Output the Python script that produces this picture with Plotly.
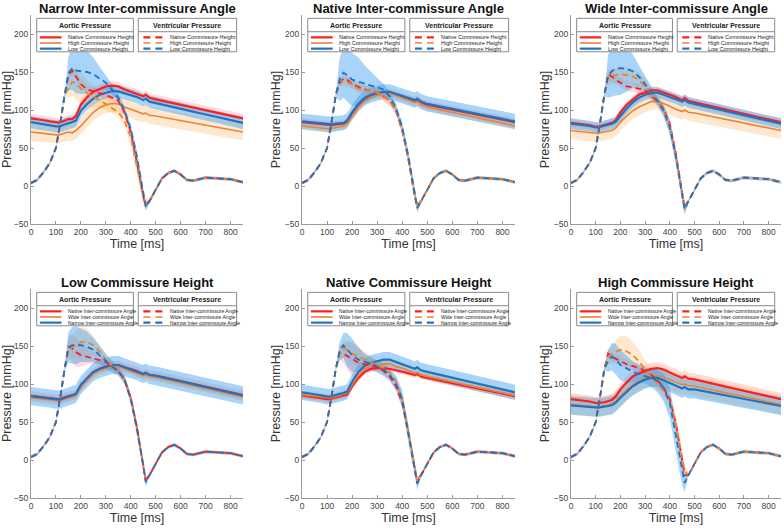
import plotly.graph_objects as go

# time grid (ms)
T = [0, 25, 50, 75, 100, 110, 120, 135, 150, 165, 180, 200, 225, 250, 275, 300, 325, 350,
     375, 400, 425, 450, 460, 475, 500, 525, 550, 575, 600, 625, 650, 700, 750, 800, 850]

# ventricular pressure: nearly identical start/end in every case
vent_early = [4, 8, 18, 30, 50, 68, 88, 120]                       # 0..135 ms
vent_late = [-20, -5, 10, 17, 20, 15, 8, 7, 11, 10, 9, 5]           # 475..850 ms
vent_edge_sd = 2

titles = ["Narrow Inter-commissure Angle", "Native Inter-commissure Angle", "Wide Inter-commissure Angle",
          "Low Commissure Height", "Native Commissure Height", "High Commissure Height"]
labels_top = ["Native Commissure Height", "High Commissure Height", "Low Commissure Height"]
labels_bottom = ["Native Inter-commissure Angle", "Wide Inter-commissure Angle", "Narrow Inter-commissure Angle"]

# ---- aortic pressure (full grid) ----
ao_narrow_native = [89, 88, 86.5, 85, 83.5, 83.5, 84, 86, 88, 88, 92, 107, 117, 124, 128, 131, 132, 131, 127, 124,
                    122, 118, 120, 116, 114, 112.2, 110.4, 108.6, 106.9, 105.1, 103.3, 99.7, 96.1, 92.6, 89]
ao_narrow_high = [71, 70, 69, 68, 67, 67, 68, 69, 71, 70, 73, 79, 88, 97, 103, 107, 108.5, 108, 104, 101,
                  97, 95, 96, 93, 92, 90.5, 89, 87.5, 86, 84.5, 83, 80, 77, 74, 71]
ao_narrow_low = [84, 82.5, 81, 80, 78.5, 78.5, 79, 81, 82, 84, 86, 99, 108, 115, 120, 123, 125, 124.5, 122, 119,
                 117, 113, 115, 111, 109, 107, 105.3, 103.4, 101.6, 99.7, 97.9, 94.1, 90.4, 86.7, 83]

ao_native_native = [84, 83, 82, 81, 80, 79.5, 80, 81, 82, 82, 85, 96, 107, 115, 119, 121, 123, 123, 120, 117,
                    115, 112, 114, 110, 107, 105.4, 103.7, 102, 100.4, 98.8, 97.1, 93.9, 90.6, 87.3, 84]
ao_native_high = [79, 78, 77, 76, 75, 75, 76, 77, 78, 79, 82, 92, 103, 112, 117, 120, 122, 122, 119, 116,
                  113, 110, 111, 107, 104, 102.2, 100.4, 98.6, 96.9, 95.1, 93.3, 89.7, 86.1, 82.6, 79]
ao_native_low = [85, 84, 83, 82, 81, 80.5, 81, 82, 83, 83, 86, 97, 108, 116, 120, 122, 124, 124, 121, 118,
                 116, 113, 115, 111, 108, 106.4, 104.7, 103, 101.4, 99.8, 98.1, 94.9, 91.6, 88.3, 85]

ao_wide_native = [83, 82, 81, 80, 78, 78, 79, 80, 81, 83, 86, 97, 107, 114, 120, 123, 126, 126, 123, 121,
                  117, 113, 116, 112, 110, 108.1, 106.3, 104.4, 102.6, 100.7, 98.9, 95.1, 91.4, 87.7, 84]
ao_wide_high = [73, 72, 71, 70, 69, 69, 70, 71, 72, 73, 76, 84, 92, 99, 104, 108, 111, 112, 109, 105,
                101, 98, 100, 97, 96, 94.4, 92.7, 91, 89.4, 87.8, 86.1, 82.9, 79.6, 76.3, 73]
ao_wide_low = [82, 81, 80, 79, 77, 77, 78, 79, 80, 82, 84, 92, 102, 110, 116, 120, 122.5, 123, 120, 118,
               115, 111, 113, 110, 108, 106.1, 104.3, 102.4, 100.6, 98.7, 96.9, 93.1, 89.4, 85.7, 82]

ao_lowch_native = [84.5, 83.5, 82.5, 81.5, 80, 80, 81, 83, 84, 85, 86, 97, 107, 115, 120, 123, 125, 124.5, 122, 120,
                   117, 113, 114, 112, 111, 109.2, 107.4, 105.6, 103.8, 102, 100.2, 96.6, 92.9, 89.3, 85.5]
ao_lowch_wide = [82, 81, 80, 79, 78, 78, 79, 80, 82, 83, 85, 96, 105, 113, 118, 121, 123, 123, 120, 118,
                 115, 111, 112, 110, 109, 107.1, 105.3, 103.4, 101.6, 99.7, 97.9, 94.1, 90.4, 86.7, 83]
ao_lowch_narrow = [84, 83, 82, 81, 79.5, 79.5, 80, 82, 84, 85, 87, 99, 108, 116, 120, 123, 125, 125, 122, 120,
                   117, 113, 115, 112, 111, 109.1, 107.3, 105.4, 103.6, 101.7, 99.9, 96.1, 92.4, 88.7, 85]

ao_nativech_native = [85, 84, 83, 81.5, 80, 80, 81, 82, 84, 84, 86, 97, 108, 116, 120, 121, 121, 120, 118, 117,
                      115, 112, 113, 110, 108, 106.3, 104.6, 102.9, 101.1, 99.4, 97.7, 94.3, 90.9, 87.4, 84]
ao_nativech_wide = [86, 85, 84, 83, 81.5, 81.5, 82, 83.5, 85, 86, 88, 99, 111, 120, 124, 125, 126.5, 126.5, 123, 121,
                    117, 114, 115, 112, 110, 108.2, 106.4, 104.6, 102.9, 101.1, 99.3, 95.7, 92.1, 88.6, 85]
ao_nativech_narrow = [89, 88, 86.5, 85, 83, 83, 84, 86, 87, 88, 90, 103, 116, 124, 128, 130, 132, 132, 129, 126,
                      123, 120, 122, 118, 116, 114.1, 112.1, 110.2, 108.3, 106.4, 104.4, 100.6, 96.7, 92.9, 89]

ao_highch_native = [80, 79, 78, 77, 75, 75, 75.5, 76, 77, 79, 83, 93, 102, 110, 114, 117, 120, 121, 119, 115,
                    112, 108, 110, 107, 106, 104.1, 102.3, 100.4, 98.6, 96.7, 94.9, 91.1, 87.4, 83.7, 80]
ao_highch_wide = [73, 72, 71, 70.5, 69.5, 69.5, 70, 71, 72, 74, 77, 84, 92, 99, 104, 108, 110, 111, 109, 106,
                  102, 99, 100, 98, 97, 95.3, 93.6, 91.9, 90.1, 88.4, 86.7, 83.3, 79.9, 76.4, 73]
ao_highch_narrow = [72, 71, 70.5, 70, 69, 69, 69.5, 70, 71, 72, 75, 82, 90, 97, 102, 106, 108, 108, 105, 101,
                    98, 94, 96, 93, 93, 91.4, 89.9, 88.3, 86.7, 85.1, 83.6, 80.4, 77.3, 74.1, 71]

# aortic SD per series (legend order)
ao_sd_narrow = [6, 11, 8]
ao_sd_native = [5, 5, 10]
ao_sd_wide = [5, 11, 7]
ao_sd_lowch = [6, 5, 12]
ao_sd_nativech = [4, 5, 10]
ao_sd_highch = [8, 13, 12]

# ---- ventricular pressure, 150..460 ms ----
vm_narrow_native = [145, 152, 144, 134, 127, 125, 123, 120, 116, 112, 97, 71, 30, -14, -25]
vm_narrow_high = [128, 137, 135, 128, 122, 118, 113, 108, 103, 97, 86, 64, 25, -14, -23]
vm_narrow_low = [148, 155, 152, 151, 150, 147, 142, 136, 127, 116, 99, 75, 38, -10, -27]
vm_native_native = [135, 141, 140, 134, 130, 127, 125, 123, 118, 112, 99, 73, 34, -14, -27]
vm_native_high = [138, 138, 136, 134, 128, 126, 124, 123, 118, 112, 100, 74, 35, -12, -27]
vm_native_low = [140, 149, 146, 140, 137, 134, 132, 130, 127, 118, 103, 77, 38, -10, -29]
vm_wide_native = [147, 144, 140, 136, 131, 130, 128, 126, 118, 112, 101, 82, 42, -10, -29]
vm_wide_high = [142, 144, 146, 147, 146, 144, 140, 131, 123, 112, 99, 78, 38, -12, -30]
vm_wide_low = [144, 151, 154, 155, 154, 151, 144, 134, 123, 112, 99, 77, 38, -12, -31]
vm_lowch_native = [149, 147, 142, 138, 136, 134, 132, 129, 123, 117, 106, 82, 43, -5, -27]
vm_lowch_wide = [145, 149, 152, 155, 155, 151, 143, 132, 124, 117, 106, 82, 43, -5, -27]
vm_lowch_narrow = [148, 151, 151, 151, 149, 145, 138, 130, 123, 117, 106, 80, 40, -7, -29]
vm_nativech_native = [141, 140, 137, 132, 128, 126, 124, 122, 117, 110, 97, 75, 35, -12, -30]
vm_nativech_wide = [140, 147, 145, 140, 136, 132, 128, 125, 121, 115, 104, 80, 38, -8, -28]
vm_nativech_narrow = [143, 151, 145, 138, 132, 130, 127, 123, 119, 112, 101, 80, 34, -10, -31]
vm_highch_native = [140, 136, 133, 130, 126, 124, 121, 117, 112, 105, 95, 80, 47, 0, -20]
vm_highch_wide = [136, 138, 142, 145, 143, 138, 130, 119, 110, 101, 90, 77, 47, 3, -14]
vm_highch_narrow = [130, 136, 133, 125, 120, 116, 113, 111, 108, 104, 95, 75, 30, -15, -30]

# ventricular SD, 150..460 ms
vsd_narrow_native = [6, 6, 6, 6, 5, 5, 5, 5, 5, 5, 5, 5, 6, 6, 5]
vsd_narrow_high = [12, 18, 20, 20, 18, 14, 10, 8, 7, 7, 8, 10, 12, 10, 8]
vsd_narrow_low = [22, 28, 30, 30, 28, 22, 15, 10, 7, 6, 6, 6, 8, 8, 6]
vsd_native_native = [5, 5, 5, 5, 5, 5, 5, 5, 5, 5, 5, 5, 5, 5, 5]
vsd_native_high = [6, 6, 6, 6, 6, 6, 6, 6, 6, 6, 6, 6, 6, 6, 6]
vsd_native_low = [28, 33, 35, 35, 32, 25, 18, 12, 8, 6, 6, 6, 8, 8, 6]
vsd_wide_native = [6, 6, 6, 6, 6, 6, 6, 6, 6, 6, 6, 6, 6, 6, 6]
vsd_wide_high = [10, 10, 10, 10, 10, 10, 10, 10, 8, 8, 8, 8, 8, 8, 8]
vsd_wide_low = [28, 33, 35, 35, 30, 22, 15, 10, 8, 6, 8, 10, 10, 8, 6]
vsd_lowch_native = [15, 18, 20, 15, 10, 7, 6, 5, 5, 5, 5, 5, 5, 5, 5]
vsd_lowch_wide = [12, 15, 18, 20, 18, 12, 8, 6, 5, 5, 5, 5, 5, 5, 5]
vsd_lowch_narrow = [20, 24, 25, 22, 20, 16, 12, 10, 8, 6, 6, 6, 8, 8, 6]
vsd_nativech_native = [10, 12, 18, 22, 20, 12, 8, 5, 5, 5, 5, 5, 5, 5, 5]
vsd_nativech_wide = [8, 10, 12, 15, 14, 10, 8, 6, 5, 5, 5, 5, 5, 5, 5]
vsd_nativech_narrow = [12, 16, 22, 22, 16, 10, 8, 8, 8, 8, 10, 12, 12, 10, 8]
vsd_highch_native = [6, 6, 6, 6, 6, 6, 6, 6, 6, 6, 6, 6, 6, 6, 6]
vsd_highch_wide = [10, 12, 15, 18, 20, 18, 15, 12, 10, 8, 8, 10, 10, 10, 8]
vsd_highch_narrow = [14, 18, 20, 20, 18, 14, 12, 10, 12, 15, 18, 20, 20, 18, 12]

panels = [
    (titles[0], labels_top, [ao_narrow_native, ao_narrow_high, ao_narrow_low], ao_sd_narrow,
     [vm_narrow_native, vm_narrow_high, vm_narrow_low], [vsd_narrow_native, vsd_narrow_high, vsd_narrow_low]),
    (titles[1], labels_top, [ao_native_native, ao_native_high, ao_native_low], ao_sd_native,
     [vm_native_native, vm_native_high, vm_native_low], [vsd_native_native, vsd_native_high, vsd_native_low]),
    (titles[2], labels_top, [ao_wide_native, ao_wide_high, ao_wide_low], ao_sd_wide,
     [vm_wide_native, vm_wide_high, vm_wide_low], [vsd_wide_native, vsd_wide_high, vsd_wide_low]),
    (titles[3], labels_bottom, [ao_lowch_native, ao_lowch_wide, ao_lowch_narrow], ao_sd_lowch,
     [vm_lowch_native, vm_lowch_wide, vm_lowch_narrow], [vsd_lowch_native, vsd_lowch_wide, vsd_lowch_narrow]),
    (titles[4], labels_bottom, [ao_nativech_native, ao_nativech_wide, ao_nativech_narrow], ao_sd_nativech,
     [vm_nativech_native, vm_nativech_wide, vm_nativech_narrow],
     [vsd_nativech_native, vsd_nativech_wide, vsd_nativech_narrow]),
    (titles[5], labels_bottom, [ao_highch_native, ao_highch_wide, ao_highch_narrow], ao_sd_highch,
     [vm_highch_native, vm_highch_wide, vm_highch_narrow], [vsd_highch_native, vsd_highch_wide, vsd_highch_narrow]),
]

LINE_COLORS = ["#FF1E1E", "#E8833A", "#2272BE"]
BAND_COLORS = ["rgba(255,90,90,0.22)", "rgba(255,180,90,0.30)", "rgba(60,160,240,0.45)"]
LINE_WIDTHS = [2.2, 1.6, 2.2]
FONT = "Liberation Sans, Arial, sans-serif"

W, H = 784, 528
col_px = [(31, 243), (302, 515), (571, 781)]
row_px = [(15, 224), (289, 498)]


def band(y, sd):
    up = [v + s for v, s in zip(y, sd)]
    lo = [v - s for v, s in zip(y, sd)]
    return T + T[::-1], up + lo[::-1]


fig = go.Figure()
shapes, annotations = [], []
layout = dict(width=W, height=H, margin=dict(l=0, r=0, t=0, b=0), showlegend=False,
              paper_bgcolor="white", plot_bgcolor="white", template="none",
              font=dict(family=FONT, color="#333"))

for i, (title, labels, ao_list, ao_sd, vm_list, vsd_list) in enumerate(panels):
    n = i + 1
    xa = "x" if n == 1 else f"x{n}"
    ya = "y" if n == 1 else f"y{n}"
    r, c = divmod(i, 3)
    x0, x1 = col_px[c]
    ytop, ybot = row_px[r]
    layout[f"xaxis{'' if n == 1 else n}"] = dict(
        domain=[x0 / W, x1 / W], anchor=ya, range=[0, 850], tickvals=list(range(0, 900, 100)),
        showline=True, linecolor="#9a9a9a", linewidth=1, ticks="inside", ticklen=3, tickcolor="#9a9a9a",
        showgrid=False, zeroline=False, tickfont=dict(size=8.5, color="#444"),
        title=dict(text="Time [ms]", font=dict(size=12.5, color="#333"), standoff=3))
    layout[f"yaxis{'' if n == 1 else n}"] = dict(
        domain=[1 - ybot / H, 1 - ytop / H], anchor=xa, range=[-50, 225], tickvals=list(range(-50, 250, 50)),
        showline=True, linecolor="#9a9a9a", linewidth=1, ticks="inside", ticklen=3, tickcolor="#9a9a9a",
        showgrid=False, zeroline=False, tickfont=dict(size=8.5, color="#444"),
        title=dict(text="Pressure [mmHg]", font=dict(size=12.5, color="#333"), standoff=1))

    vents = [vent_early + vm + vent_late for vm in vm_list]
    vsds = [[vent_edge_sd] * len(vent_early) + sd + [vent_edge_sd] * len(vent_late) for sd in vsd_list]

    # shaded bands
    for k in range(3):
        bx, by = band(ao_list[k], [ao_sd[k]] * len(T))
        fig.add_trace(go.Scatter(x=bx, y=by, fill="toself", fillcolor=BAND_COLORS[k], line=dict(width=0),
                                 mode="lines", hoverinfo="skip", xaxis=xa, yaxis=ya))
    for k in range(3):
        bx, by = band(vents[k], vsds[k])
        fig.add_trace(go.Scatter(x=bx, y=by, fill="toself", fillcolor=BAND_COLORS[k], line=dict(width=0),
                                 mode="lines", hoverinfo="skip", xaxis=xa, yaxis=ya))
    # mean curves
    for k in range(3):
        fig.add_trace(go.Scatter(x=T, y=ao_list[k], mode="lines", name=labels[k],
                                 line=dict(color=LINE_COLORS[k], width=LINE_WIDTHS[k]), xaxis=xa, yaxis=ya))
    for k in range(3):
        fig.add_trace(go.Scatter(x=T, y=vents[k], mode="lines", name=labels[k],
                                 line=dict(color=LINE_COLORS[k], width=1.8, dash="6px,4px"), xaxis=xa, yaxis=ya))

    xr, yr = f"{xa} domain", f"{ya} domain"
    annotations.append(dict(text=f"<b>{title}</b>", xref=xr, yref=yr, x=0.5, y=1.0, xanchor="center",
                            yanchor="bottom", yshift=-2, borderpad=0, showarrow=False,
                            font=dict(size=13, color="#111")))
    entry_size = 5.5 if r == 0 else 5
    # two boxed legends
    for (bx0, bx1, sx0, sx1, tx, hx, head, dash) in [
            (0.027, 0.483, 0.042, 0.144, 0.165, 0.255, "Aortic Pressure", None),
            (0.506, 0.970, 0.530, 0.624, 0.645, 0.738, "Ventricular Pressure", "dash")]:
        shapes.append(dict(type="rect", xref=xr, yref=yr, x0=bx0, x1=bx1, y0=0.824, y1=0.984,
                           line=dict(color="#8a8a8a", width=1), fillcolor="white", layer="above"))
        shapes.append(dict(type="line", xref=xr, yref=yr, x0=bx0, x1=bx1, y0=0.920, y1=0.920,
                           line=dict(color="#8a8a8a", width=1), layer="above"))
        annotations.append(dict(text=f"<b>{head}</b>", xref=xr, yref=yr, x=hx, y=0.952, xanchor="center",
                                yanchor="middle", showarrow=False, font=dict(size=7, color="#222")))
        for k, yy in enumerate([0.893, 0.866, 0.839]):
            shapes.append(dict(type="line", xref=xr, yref=yr, x0=sx0, x1=sx1, y0=yy, y1=yy, layer="above",
                               line=dict(color=LINE_COLORS[k], width=LINE_WIDTHS[k],
                                         dash="7px,5px" if dash else "solid")))
            annotations.append(dict(text=labels[k], xref=xr, yref=yr, x=tx, y=yy, xanchor="left",
                                    yanchor="middle", showarrow=False,
                                    font=dict(size=entry_size, color="#222")))

layout["shapes"] = shapes
layout["annotations"] = annotations
fig.update_layout(**layout)
# the page body has a default 8px margin; drop it so the figure fills the window
fig.write_html("out.html", config={"displayModeBar": False},
               post_script="document.body.style.margin='0';")
